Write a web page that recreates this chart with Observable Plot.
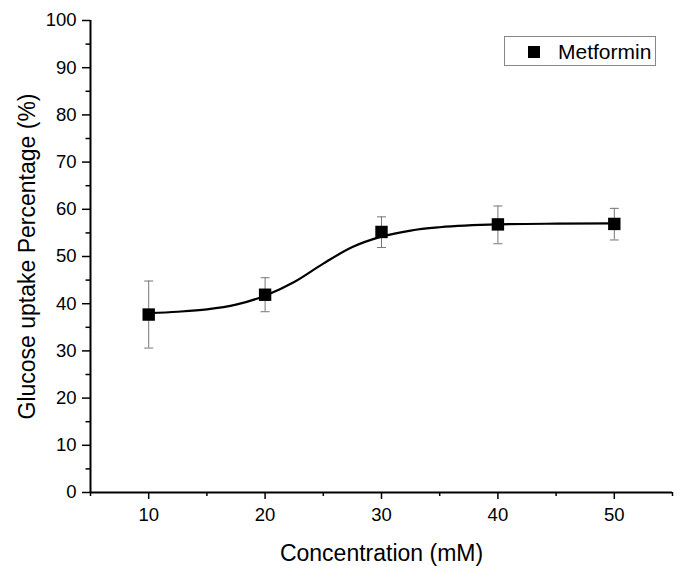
<!DOCTYPE html>
<html>
<head>
<meta charset="utf-8">
<script src="https://cdn.jsdelivr.net/npm/d3@7"></script>
<script src="https://cdn.jsdelivr.net/npm/@observablehq/plot@0.6"></script>
<style>
  body { margin: 0; background: #fff; }
  #wrap { position: relative; width: 683px; height: 577px; font-family: "Liberation Sans", Arial, sans-serif; }
  #legend { position: absolute; left: 504px; top: 36px; width: 152px; height: 30px; border: 1px solid #888; background: #fff; box-sizing: border-box; }
  #legend .sw { position: absolute; left: 23px; top: 9px; width: 12px; height: 12px; background: #000; }
  #legend .lb { position: absolute; left: 53px; top: 3px; font-size: 21px; color: #000; }
  #chart svg g[aria-label="x-axis label"] text,
  #chart svg g[aria-label="y-axis label"] text { font-size: 23px; }
  #chart svg g[aria-label="x-axis tick label"] text,
  #chart svg g[aria-label="y-axis tick label"] text { font-size: 18.5px; }
</style>
</head>
<body>
<div id="wrap">
  <div id="chart"></div>
  <div id="legend"><div class="sw"></div><div class="lb">Metformin</div></div>
</div>
<script>
// Measured points (mean, error bar ends)
const concentration = [10, 20, 30, 40, 50];
const uptake = [37.7, 41.9, 55.2, 56.8, 56.9];
const errLow = [30.6, 38.3, 51.9, 52.7, 53.5];
const errHigh = [44.8, 45.5, 58.4, 60.7, 60.2];

// Fitted curve
const curveX = [10, 12.5, 15, 17.5, 20, 22.5, 25, 27.5, 30, 32.5, 35, 40, 45, 50];
const curveY = [38.0, 38.3, 38.8, 39.8, 41.7, 44.6, 48.5, 52.0, 54.2, 55.5, 56.2, 56.8, 56.95, 57.0];

const xTicks = [10, 20, 30, 40, 50];
const xMinor = [5, 15, 25, 35, 45, 55];
const yTicks = [0, 10, 20, 30, 40, 50, 60, 70, 80, 90, 100];
const yMinor = [5, 15, 25, 35, 45, 55, 65, 75, 85, 95];

const points = concentration.map((c, i) => ({x: c, y: uptake[i], lo: errLow[i], hi: errHigh[i]}));
const curve = curveX.map((c, i) => ({x: c, y: curveY[i]}));

const capSymbol = {
  draw(ctx, size) {
    const w = Math.sqrt(size / Math.PI);
    ctx.moveTo(-w, 0);
    ctx.lineTo(w, 0);
  }
};

const chart = Plot.plot({
  width: 683,
  height: 577,
  marginLeft: 90,
  marginRight: 11,
  marginTop: 20,
  marginBottom: 85,
  style: {fontFamily: "Liberation Sans, Arial, sans-serif", background: "#fff", color: "#000", fontSize: "18px"},
  x: {domain: [5, 55]},
  y: {domain: [0, 100]},
  marks: [
    Plot.axisX({ticks: xMinor, tickSize: 4, tickFormat: () => "", label: null, strokeWidth: 1.5}),
    Plot.axisX({ticks: xTicks, tickSize: 7, tickPadding: 8, strokeWidth: 1.5,
      label: "Concentration (mM)", labelAnchor: "center", labelArrow: "none", labelOffset: 68}),
    Plot.axisY({ticks: yMinor, tickSize: 4.5, tickFormat: () => "", label: null, strokeWidth: 1.5}),
    Plot.axisY({ticks: yTicks, tickSize: 8, tickPadding: 6, strokeWidth: 1.5,
      label: "Glucose uptake Percentage (%)", labelAnchor: "center", labelArrow: "none", labelOffset: 72}),
    Plot.ruleX([5], {stroke: "#000", strokeWidth: 2}),
    Plot.ruleY([0], {stroke: "#000", strokeWidth: 2}),
    Plot.ruleX(points, {x: "x", y1: "lo", y2: "hi", stroke: "#777", strokeWidth: 1}),
    Plot.dot(points, {x: "x", y: "lo", symbol: capSymbol, r: 4.5, stroke: "#777", strokeWidth: 1, fill: "none"}),
    Plot.dot(points, {x: "x", y: "hi", symbol: capSymbol, r: 4.5, stroke: "#777", strokeWidth: 1, fill: "none"}),
    Plot.line(curve, {x: "x", y: "y", curve: "monotone-x", stroke: "#000", strokeWidth: 2.2}),
    Plot.dot(points, {x: "x", y: "y", symbol: "square", r: 7, fill: "#000", stroke: "none"})
  ]
});
document.getElementById("chart").appendChild(chart);
</script>
</body>
</html>
